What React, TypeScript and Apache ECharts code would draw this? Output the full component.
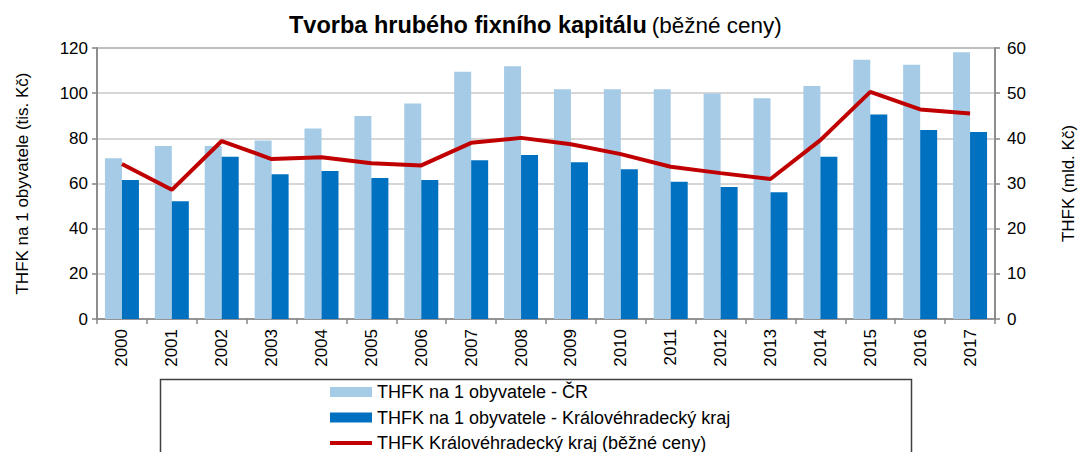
import React, { useEffect, useRef } from "react";
import * as echarts from "echarts";

const years = ["2000","2001","2002","2003","2004","2005","2006","2007","2008","2009","2010","2011","2012","2013","2014","2015","2016","2017"];
const crPerCapita = [71.2, 76.6, 76.6, 79.0, 84.4, 89.9, 95.4, 109.5, 111.9, 101.7, 101.7, 101.7, 99.8, 97.7, 103.2, 114.8, 112.6, 118.1];
const khkPerCapita = [61.6, 52.1, 71.9, 64.1, 65.5, 62.4, 61.6, 70.3, 72.6, 69.4, 66.3, 60.8, 58.5, 56.1, 71.9, 90.6, 83.7, 82.8];
const khkTotal = [34.3, 28.6, 39.4, 35.4, 35.8, 34.5, 34.0, 39.0, 40.1, 38.7, 36.5, 33.7, 32.3, 31.0, 39.6, 50.3, 46.4, 45.5];
const leftTicks = { min: 0, max: 120, interval: 20 };
const rightTicks = { min: 0, max: 60, interval: 10 };

const nameCR = "THFK na 1 obyvatele - ČR";
const nameKHK = "THFK na 1 obyvatele - Královéhradecký kraj";
const nameTotal = "THFK Královéhradecký kraj (běžné ceny)";

const FONT = "'Liberation Sans', Arial, sans-serif";

export default function App() {
  const ref = useRef<HTMLDivElement>(null);
  useEffect(() => {
    if (!ref.current) return;
    const chart = echarts.init(ref.current, undefined, { renderer: "svg" });
    const axisLineColor = "#868686";
    chart.setOption({
      animation: false,
      textStyle: { fontFamily: FONT },
      title: {
        text: "{b|Tvorba hrubého fixního kapitálu} {n|(běžné ceny)}",
        left: 284,
        top: 8,
        textStyle: {
          rich: {
            b: { fontFamily: FONT, fontSize: 23.5, fontWeight: "bold", color: "#000" },
            n: { fontFamily: FONT, fontSize: 22.5, fontWeight: "normal", color: "#000" },
          },
        },
      },
      grid: {
        left: 97, right: 89, top: 48, bottom: 133, containLabel: false,
        show: true, borderColor: "#868686", borderWidth: 1.5, backgroundColor: "transparent",
      },
      legend: {
        orient: "vertical",
        left: 330,
        top: 383,
        padding: 0,
        itemWidth: 42,
        itemHeight: 10,
        itemGap: 7.5,
        textStyle: { fontFamily: FONT, fontSize: 18, color: "#000", lineHeight: 18 },
        data: [
          { name: nameCR, icon: "rect" },
          { name: nameKHK, icon: "rect" },
          { name: nameTotal, icon: "path://M0,0H42V4H0Z" },
        ],
      },
      graphic: [
        {
          type: "rect",
          shape: { x: 160.5, y: 379.5, width: 751, height: 100 },
          style: { fill: "none", stroke: "#404040", lineWidth: 1.5 },
          z: -1,
        },
      ],
      xAxis: {
        type: "category",
        data: years,
        axisLine: { lineStyle: { color: axisLineColor, width: 1.5 } },
        axisTick: { show: true, alignWithLabel: false, length: 5, lineStyle: { color: axisLineColor, width: 1.5 } },
        axisLabel: { rotate: 90, margin: 10, fontSize: 17, color: "#000", fontFamily: FONT },
      },
      yAxis: [
        {
          type: "value",
          min: leftTicks.min,
          max: leftTicks.max,
          interval: leftTicks.interval,
          name: "THFK na 1 obyvatele (tis. Kč)",
          nameLocation: "middle",
          nameRotate: 90,
          nameGap: 66,
          nameTextStyle: { fontSize: 17, color: "#000", fontFamily: FONT },
          axisLine: { show: true, lineStyle: { color: axisLineColor, width: 1.5 } },
          axisTick: { show: true, length: 5, lineStyle: { color: axisLineColor, width: 1.5 } },
          axisLabel: { fontSize: 17, color: "#000", margin: 9, fontFamily: FONT },
          splitLine: { show: true, lineStyle: { color: "#c8c8c8", width: 1.5 } },
        },
        {
          type: "value",
          min: rightTicks.min,
          max: rightTicks.max,
          interval: rightTicks.interval,
          position: "right",
          name: "THFK (mld. Kč)",
          nameLocation: "middle",
          nameRotate: 90,
          nameGap: 65,
          nameTextStyle: { fontSize: 17, color: "#000", fontFamily: FONT },
          axisLine: { show: true, lineStyle: { color: axisLineColor, width: 1.5 } },
          axisTick: { show: true, length: 5, lineStyle: { color: axisLineColor, width: 1.5 } },
          axisLabel: { fontSize: 17, color: "#000", margin: 12, fontFamily: FONT },
          splitLine: { show: false },
        },
      ],
      series: [
        {
          name: nameCR,
          type: "bar",
          data: crPerCapita,
          barWidth: 17,
          barGap: "0%",
          itemStyle: { color: "#a6cbe7" },
        },
        {
          name: nameKHK,
          type: "bar",
          data: khkPerCapita,
          barWidth: 17,
          barGap: "0%",
          itemStyle: { color: "#0070c0" },
        },
        {
          name: nameTotal,
          type: "line",
          yAxisIndex: 1,
          data: khkTotal,
          symbol: "none",
          lineStyle: { color: "#c00000", width: 4 },
          itemStyle: { color: "#c00000" },
          z: 5,
        },
      ],
    });
    return () => chart.dispose();
  }, []);
  return <div ref={ref} style={{ width: 1085, height: 452, position: "absolute", left: 0, top: 0 }} />;
}
